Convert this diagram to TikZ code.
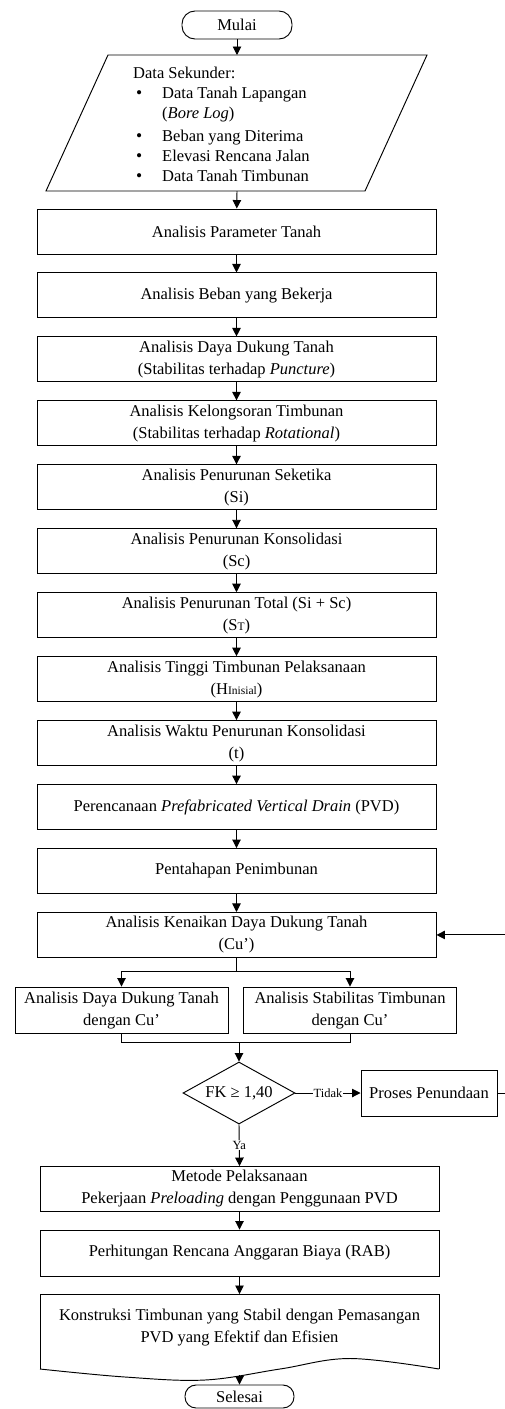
\documentclass[tikz,border=0pt]{standalone}
\usepackage{fontspec}
\setmainfont{Liberation Serif}
\usetikzlibrary{shapes.geometric,arrows.meta}
\begin{document}
\begin{tikzpicture}[x=1pt,y=-1pt,
  every node/.style={font=\fontsize{16.5}{22}\selectfont},
  box/.style={draw, line width=0.95pt, rectangle, minimum width=399pt, minimum height=45pt, inner sep=0pt, align=center},
  sub/.style={box, minimum width=213pt, minimum height=46.5pt},
  term/.style={draw, line width=0.95pt, rounded corners=13pt, minimum width=110pt, minimum height=28pt, inner sep=0pt},
  dia/.style={draw, line width=0.95pt, diamond, aspect=1.8, minimum width=112pt, minimum height=62pt, inner sep=0pt},
  arr/.style={-{Triangle[length=8.5pt,width=8.5pt]}, line width=0.95pt},
  ln/.style={line width=0.95pt},
  lab/.style={font=\fontsize{12.5}{14}\selectfont, fill=white, inner sep=1pt},
  ptxt/.style={anchor=base west, inner sep=0pt},
  bul/.style={anchor=base west, inner sep=0pt, font=\fontsize{17.5}{18}\selectfont}
]
\useasboundingbox (0,0) rectangle (505,1409);
\newcommand{\smallsub}[1]{\raisebox{-0.5pt}{\fontsize{11.5}{12}\selectfont #1}}

% start
\node[term] (mulai) at (237,25) {Mulai};

% parallelogram
\coordinate (pa) at (108,55);
\coordinate (pb) at (427,55);
\coordinate (pc) at (365,191);
\coordinate (pd) at (46,191);
\coordinate (ptop) at (237,55);
\coordinate (pbot) at (237,191);
\draw[ln] (pa) -- (pb) -- (pc) -- (pd) -- cycle;
\node[ptxt] (dsk) at (133,78.5) {Data Sekunder:};
\node[bul] (bu1) at (136,98.5) {•};
\node[ptxt] (tx1) at (162,98.5) {Data Tanah Lapangan};
\node[ptxt] (tx1b) at (162,118.5) {(\textit{Bore Log})};
\node[bul] (bu2) at (136,141.5) {•};
\node[ptxt] (tx2) at (162,141.5) {Beban yang Diterima};
\node[bul] (bu3) at (136,161.5) {•};
\node[ptxt] (tx3) at (162,161.5) {Elevasi Rencana Jalan};
\node[bul] (bu4) at (136,181.5) {•};
\node[ptxt] (tx4) at (162,181.5) {Data Tanah Timbunan};

% main boxes
\node[box] (b1) at (236.5,231.5) {Analisis Parameter Tanah};
\node[box] (b2) at (236.5,295.45) {Analisis Beban yang Bekerja};
\node[box] (b3) at (236.5,359.4) {Analisis Daya Dukung Tanah\\(Stabilitas terhadap \textit{Puncture})};
\node[box] (b4) at (236.5,423.35) {Analisis Kelongsoran Timbunan\\(Stabilitas terhadap \textit{Rotational})};
\node[box] (b5) at (236.5,487.3) {Analisis Penurunan Seketika\\(Si)};
\node[box] (b6) at (236.5,551.25) {Analisis Penurunan Konsolidasi\\(Sc)};
\node[box] (b7) at (236.5,615.2) {Analisis Penurunan Total (Si + Sc)\\(S\smallsub{T})};
\node[box] (b8) at (236.5,679.15) {Analisis Tinggi Timbunan Pelaksanaan\\(H\smallsub{Inisial})};
\node[box] (b9) at (236.5,743.1) {Analisis Waktu Penurunan Konsolidasi\\(t)};
\node[box] (b10) at (236.5,807.05) {Perencanaan \textit{Prefabricated Vertical Drain} (PVD)};
\node[box] (b11) at (236.5,871) {Pentahapan Penimbunan};
\node[box] (kn) at (236.5,934.95) {Analisis Kenaikan Daya Dukung Tanah\\(Cu’)};

\node[sub] (sa) at (121.5,1010.25) {Analisis Daya Dukung Tanah\\dengan Cu’};
\node[sub] (sb) at (350,1010.25) {Analisis Stabilitas Timbunan\\dengan Cu’};

\node[dia] (dia) at (239,1093) {FK ≥ 1,40};
\node[box, minimum width=136pt, minimum height=46pt] (pro) at (429,1093) {Proses Penundaan};

\node[box] (met) at (239.5,1189) {Metode Pelaksanaan\\Pekerjaan \textit{Preloading} dengan Penggunaan PVD};
\node[box, minimum height=46pt] (rab) at (239.5,1253) {Perhitungan Rencana Anggaran Biaya (RAB)};

% document shape
\draw[ln] (40,1369) -- (40,1294) -- (439,1294) -- (439,1369);
\draw[ln] plot[smooth, tension=0.6] coordinates {(40,1369) (125,1377) (205,1380) (280,1369) (350,1358.5) (439,1369)};
\node[align=center, inner sep=0pt] (doc) at (239.5,1327.5) {Konstruksi Timbunan yang Stabil dengan Pemasangan\\PVD yang Efektif dan Efisien};
\coordinate (doct) at (239.5,1294);
\coordinate (docb) at (239.5,1375);

\node[term, minimum width=109pt, minimum height=23pt, rounded corners=11pt] (sel) at (239.5,1396.5) {Selesai};

% connectors
\draw[arr] (mulai) -- (ptop);
\draw[arr] (pbot) -- (b1);
\draw[arr] (b1) -- (b2);
\draw[arr] (b2) -- (b3);
\draw[arr] (b3) -- (b4);
\draw[arr] (b4) -- (b5);
\draw[arr] (b5) -- (b6);
\draw[arr] (b6) -- (b7);
\draw[arr] (b7) -- (b8);
\draw[arr] (b8) -- (b9);
\draw[arr] (b9) -- (b10);
\draw[arr] (b10) -- (b11);
\draw[arr] (b11) -- (kn);

\coordinate (sp) at (236.5,971);
\draw[ln] (kn.south) -- (sp);
\draw[arr] (sp) -| (sa.north);
\draw[arr] (sp) -| (sb.north);

\coordinate (mg) at (239,1042);
\draw[ln] (sa.south) |- (mg) -| (sb.south);
\draw[arr] (mg) -- (dia.north);

\draw[arr] (dia.east) -- node[lab] (tidak) {Tidak} (pro.west);
\draw[arr] (pro.east) -- ++(9,0) |- (kn.east);
\draw[arr] (dia.south) -- node[lab] (ya) {Ya} (met.north);
\draw[arr] (met) -- (rab);
\draw[arr] (rab) -- (doct);
\draw[arr] (docb) -- (sel.north);
\end{tikzpicture}
\end{document}
